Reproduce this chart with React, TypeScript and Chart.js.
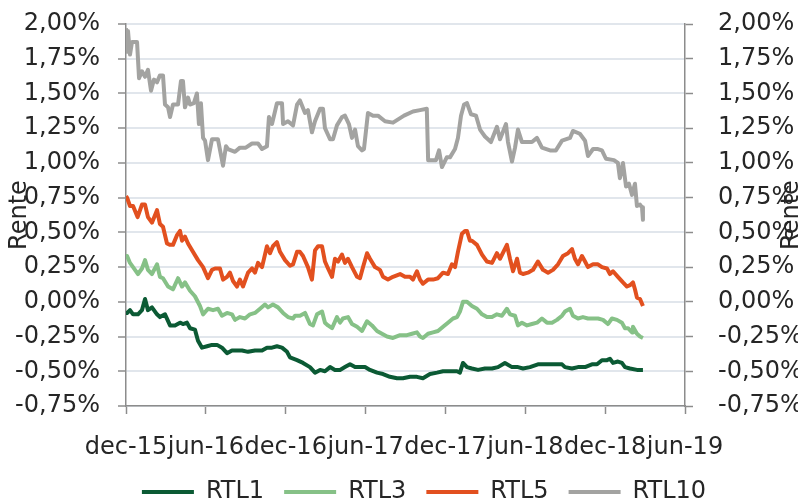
import React, { useEffect, useRef } from 'react';
import { Chart, registerables } from 'chart.js';

Chart.register(...registerables);

// x values are months since 1 Dec 2015
const tickLabels = ['dec-15', 'jun-16', 'dec-16', 'jun-17', 'dec-17', 'jun-18', 'dec-18', 'jun-19'];
const seriesNames = ['RTL1', 'RTL3', 'RTL5', 'RTL10'];
const seriesColors = ['#0b5a34', '#86c187', '#e2501f', '#a3a3a1'];
const axisTitle = 'Rente';

const rtl1: [number, number][] = [
  [0, -0.08], [0.08, -0.08], [0.3, -0.06], [0.53, -0.09], [0.9, -0.09], [1.2, -0.06], [1.43, 0.02], [1.65, -0.06],
  [1.95, -0.04], [2.33, -0.09], [2.55, -0.11], [2.93, -0.09], [3.31, -0.17], [3.68, -0.17], [4.06, -0.15], [4.28, -0.16],
  [4.58, -0.15], [4.81, -0.19], [5.18, -0.2], [5.41, -0.28], [5.71, -0.33], [6.09, -0.32], [6.46, -0.31], [6.84, -0.31],
  [7.21, -0.33], [7.59, -0.37], [7.96, -0.35], [8.34, -0.35], [8.72, -0.35], [9.17, -0.36], [9.69, -0.35], [10.22, -0.35],
  [10.59, -0.33], [10.97, -0.33], [11.34, -0.32], [11.72, -0.33], [12.1, -0.36], [12.32, -0.4], [12.85, -0.42], [13.3, -0.44],
  [13.82, -0.47], [14.2, -0.51], [14.58, -0.49], [14.95, -0.5], [15.33, -0.47], [15.7, -0.49], [16.08, -0.49], [16.45, -0.47],
  [16.83, -0.45], [17.21, -0.47], [17.58, -0.47], [17.96, -0.47], [18.33, -0.49], [18.86, -0.51], [19.31, -0.52], [19.83, -0.54],
  [20.36, -0.55], [20.81, -0.55], [21.34, -0.54], [21.86, -0.54], [22.31, -0.55], [22.84, -0.52], [23.37, -0.51], [23.82, -0.5],
  [24.34, -0.5], [24.87, -0.5], [25.09, -0.51], [25.32, -0.44], [25.62, -0.47], [25.99, -0.48], [26.45, -0.49], [26.97, -0.48],
  [27.5, -0.48], [27.95, -0.47], [28.47, -0.44], [29.0, -0.47], [29.45, -0.47], [29.83, -0.48], [30.35, -0.47], [30.95, -0.45],
  [31.63, -0.45], [32.08, -0.45], [32.76, -0.45], [32.98, -0.47], [33.51, -0.48], [33.96, -0.47], [34.49, -0.47], [35.01, -0.45],
  [35.39, -0.45], [35.76, -0.42], [36.14, -0.42], [36.36, -0.41], [36.59, -0.44], [36.96, -0.43], [37.26, -0.44], [37.49, -0.47],
  [37.87, -0.48], [38.39, -0.49], [38.84, -0.49],
];

const rtl3: [number, number][] = [
  [0, 0.33], [0.08, 0.33], [0.3, 0.28], [0.53, 0.25], [0.9, 0.2], [1.2, 0.24], [1.43, 0.3], [1.65, 0.23], [1.95, 0.2],
  [2.33, 0.27], [2.55, 0.18], [2.78, 0.17], [3.16, 0.11], [3.53, 0.09], [3.91, 0.17], [4.21, 0.11], [4.43, 0.14], [4.81, 0.08],
  [5.18, 0.04], [5.56, -0.03], [5.79, -0.09], [6.16, -0.05], [6.54, -0.06], [6.91, -0.05], [7.21, -0.1], [7.59, -0.08],
  [7.96, -0.09], [8.19, -0.13], [8.56, -0.11], [8.94, -0.12], [9.32, -0.09], [9.69, -0.08], [10.07, -0.05], [10.44, -0.02],
  [10.67, -0.04], [11.04, -0.02], [11.42, -0.04], [11.8, -0.08], [12.17, -0.11], [12.55, -0.12], [12.7, -0.1], [13.07, -0.1],
  [13.45, -0.08], [13.82, -0.16], [14.05, -0.17], [14.35, -0.09], [14.73, -0.07], [14.95, -0.15], [15.18, -0.17], [15.48, -0.19],
  [15.85, -0.11], [16.08, -0.15], [16.3, -0.12], [16.68, -0.11], [16.98, -0.16], [17.36, -0.18], [17.73, -0.21], [18.11, -0.14],
  [18.48, -0.17], [18.86, -0.21], [19.23, -0.23], [19.61, -0.25], [20.06, -0.26], [20.59, -0.24], [21.11, -0.24], [21.49, -0.23],
  [21.86, -0.22], [22.09, -0.25], [22.31, -0.26], [22.69, -0.23], [23.07, -0.22], [23.44, -0.21], [23.82, -0.18], [24.19, -0.15],
  [24.57, -0.12], [24.87, -0.11], [25.09, -0.07], [25.32, 0.0], [25.62, 0.0], [25.99, -0.03], [26.37, -0.05], [26.75, -0.09],
  [27.12, -0.11], [27.5, -0.11], [27.87, -0.09], [28.25, -0.1], [28.62, -0.05], [28.85, -0.09], [29.23, -0.1], [29.45, -0.17],
  [29.75, -0.15], [30.13, -0.17], [30.5, -0.16], [30.88, -0.15], [31.25, -0.12], [31.63, -0.15], [32.01, -0.15], [32.38, -0.13],
  [32.76, -0.1], [32.98, -0.07], [33.36, -0.05], [33.58, -0.1], [33.96, -0.12], [34.33, -0.11], [34.71, -0.12], [35.09, -0.12],
  [35.46, -0.12], [35.84, -0.13], [36.21, -0.16], [36.51, -0.12], [36.89, -0.13], [37.26, -0.15], [37.49, -0.19], [37.72, -0.19],
  [38.02, -0.22], [38.09, -0.18], [38.39, -0.23], [38.62, -0.25], [38.84, -0.26],
];

const rtl5: [number, number][] = [
  [0, 0.76], [0.08, 0.75], [0.3, 0.69], [0.53, 0.69], [0.87, 0.61], [1.2, 0.7], [1.43, 0.7], [1.65, 0.61], [1.95, 0.57],
  [2.33, 0.66], [2.55, 0.56], [2.78, 0.54], [3.08, 0.42], [3.31, 0.41], [3.53, 0.41], [3.83, 0.48], [4.06, 0.51], [4.21, 0.44],
  [4.43, 0.47], [4.66, 0.42], [5.03, 0.36], [5.41, 0.3], [5.79, 0.25], [6.16, 0.17], [6.46, 0.23], [6.69, 0.24], [7.06, 0.24],
  [7.29, 0.16], [7.59, 0.18], [7.81, 0.21], [8.04, 0.15], [8.34, 0.11], [8.56, 0.16], [8.79, 0.11], [9.17, 0.21], [9.47, 0.24],
  [9.69, 0.21], [9.92, 0.28], [10.22, 0.25], [10.59, 0.4], [10.82, 0.35], [11.04, 0.4], [11.34, 0.43], [11.57, 0.36],
  [11.95, 0.3], [12.32, 0.26], [12.55, 0.27], [12.85, 0.36], [13.07, 0.36], [13.3, 0.33], [13.67, 0.25], [13.97, 0.16],
  [14.2, 0.37], [14.43, 0.4], [14.73, 0.4], [14.95, 0.29], [15.18, 0.24], [15.48, 0.18], [15.7, 0.31], [15.93, 0.29],
  [16.23, 0.34], [16.45, 0.28], [16.68, 0.31], [16.98, 0.25], [17.36, 0.18], [17.58, 0.17], [17.81, 0.25], [18.11, 0.35],
  [18.33, 0.31], [18.71, 0.25], [19.08, 0.23], [19.31, 0.18], [19.68, 0.16], [20.06, 0.18], [20.59, 0.2], [20.96, 0.18],
  [21.34, 0.18], [21.56, 0.16], [21.86, 0.22], [22.09, 0.16], [22.31, 0.13], [22.69, 0.16], [23.07, 0.16], [23.44, 0.17],
  [23.82, 0.21], [24.19, 0.2], [24.49, 0.27], [24.72, 0.25], [24.94, 0.36], [25.24, 0.49], [25.47, 0.51], [25.62, 0.51],
  [25.84, 0.44], [25.99, 0.44], [26.37, 0.41], [26.75, 0.34], [27.12, 0.29], [27.5, 0.28], [27.87, 0.35], [28.1, 0.31],
  [28.62, 0.41], [28.85, 0.31], [29.08, 0.22], [29.38, 0.31], [29.6, 0.21], [29.83, 0.2], [30.2, 0.21], [30.58, 0.23],
  [30.95, 0.29], [31.33, 0.23], [31.71, 0.21], [32.08, 0.23], [32.46, 0.27], [32.83, 0.33], [33.21, 0.35], [33.51, 0.38],
  [33.73, 0.31], [33.96, 0.27], [34.26, 0.33], [34.49, 0.29], [34.71, 0.25], [35.09, 0.27], [35.46, 0.27], [35.76, 0.25],
  [36.14, 0.24], [36.36, 0.2], [36.59, 0.22], [36.96, 0.18], [37.34, 0.14], [37.64, 0.11], [37.87, 0.12], [38.09, 0.14],
  [38.24, 0.09], [38.39, 0.03], [38.62, 0.02], [38.84, -0.03],
];

const rtl10: [number, number][] = [
  [0, 1.97], [0.08, 1.8], [0.15, 1.95], [0.3, 1.78], [0.45, 1.87], [0.83, 1.87], [0.98, 1.61], [1.2, 1.66], [1.43, 1.62],
  [1.65, 1.67], [1.88, 1.52], [2.1, 1.6], [2.33, 1.58], [2.55, 1.63], [2.78, 1.63], [2.93, 1.42], [3.16, 1.4], [3.31, 1.33],
  [3.53, 1.42], [3.91, 1.42], [4.13, 1.59], [4.28, 1.59], [4.43, 1.4], [4.66, 1.47], [4.81, 1.42], [5.1, 1.43], [5.33, 1.5],
  [5.48, 1.28], [5.63, 1.43], [5.79, 1.18], [5.94, 1.16], [6.16, 1.02], [6.46, 1.17], [6.91, 1.17], [7.29, 0.98], [7.51, 1.12],
  [7.66, 1.1], [8.19, 1.08], [8.56, 1.11], [9.0, 1.11], [9.47, 1.14], [9.92, 1.14], [10.22, 1.1], [10.59, 1.12], [10.74, 1.33],
  [10.97, 1.28], [11.34, 1.43], [11.72, 1.43], [11.8, 1.28], [12.17, 1.3], [12.55, 1.27], [12.85, 1.42], [13.07, 1.45],
  [13.45, 1.36], [13.67, 1.38], [13.97, 1.22], [14.2, 1.3], [14.58, 1.39], [14.8, 1.39], [14.95, 1.25], [15.33, 1.17],
  [15.55, 1.17], [15.85, 1.27], [16.23, 1.33], [16.45, 1.34], [16.75, 1.28], [16.98, 1.18], [17.21, 1.24], [17.43, 1.12],
  [17.73, 1.09], [17.88, 1.1], [18.18, 1.36], [18.56, 1.34], [18.93, 1.34], [19.46, 1.3], [20.06, 1.29], [20.89, 1.34],
  [21.56, 1.37], [22.09, 1.38], [22.6, 1.39], [22.7, 1.02], [23.29, 1.02], [23.52, 1.09], [23.74, 0.97], [24.1, 1.04],
  [24.34, 1.04], [24.72, 1.1], [24.94, 1.18], [25.17, 1.34], [25.4, 1.42], [25.62, 1.43], [25.92, 1.35], [26.3, 1.34],
  [26.6, 1.24], [26.97, 1.19], [27.42, 1.15], [27.87, 1.26], [28.1, 1.17], [28.55, 1.28], [28.7, 1.15], [29.0, 1.01],
  [29.23, 1.11], [29.45, 1.24], [29.75, 1.15], [30.5, 1.15], [30.88, 1.18], [31.25, 1.11], [31.86, 1.09], [32.3, 1.09],
  [32.76, 1.16], [33.36, 1.18], [33.58, 1.23], [34.1, 1.21], [34.49, 1.16], [34.71, 1.05], [35.09, 1.1], [35.46, 1.1],
  [35.76, 1.09], [36.06, 1.03], [36.66, 1.02], [36.96, 1.0], [37.11, 0.89], [37.34, 1.0], [37.57, 0.83], [37.79, 0.85],
  [38.02, 0.77], [38.24, 0.85], [38.39, 0.69], [38.62, 0.7], [38.77, 0.68], [38.84, 0.59],
];

const seriesData = [rtl1, rtl3, rtl5, rtl10];

const FONT = 'DejaVu Sans';
const TEXT = '#262626';
const AXIS = '#8c8c8c';
const GRID = '#e1e6ec';

const fmtPct = (v: number | string) => Number(v).toFixed(2).replace('.', ',') + '%';

const sideTitles = {
  id: 'sideTitles',
  afterLayout(chart: any) {
    const lg = chart.legend;
    if (lg) {
      lg.left += 21;
      lg.right += 21;
    }
  },
  afterDraw(chart: any) {
    const { ctx, chartArea } = chart;
    const cy = (chartArea.top + chartArea.bottom) / 2;
    ctx.save();
    ctx.font = `24px "${FONT}"`;
    ctx.fillStyle = TEXT;
    ctx.textAlign = 'center';
    ctx.textBaseline = 'middle';
    for (const x of [12, chart.width - 6]) {
      ctx.save();
      ctx.translate(x, cy);
      ctx.rotate(-Math.PI / 2);
      ctx.fillText(axisTitle, 0, 0);
      ctx.restore();
    }
    ctx.restore();
  },
};

export default function App() {
  const ref = useRef<HTMLCanvasElement>(null);
  useEffect(() => {
    document.body.style.overflow = 'hidden';
    const font = { family: FONT, size: 24 };
    const yTicks = { stepSize: 0.25, font, color: TEXT, callback: (v: any) => fmtPct(v) };
    const chart = new Chart(ref.current!, {
      type: 'line',
      data: {
        datasets: seriesNames.map((name, i) => ({
          label: name,
          data: seriesData[i].map(([x, y]) => ({ x, y })),
          borderColor: seriesColors[i],
          backgroundColor: seriesColors[i],
          borderWidth: 4,
          pointRadius: 0,
          tension: 0,
          borderJoinStyle: 'round' as const,
          yAxisID: 'y',
        })),
      },
      options: {
        animation: false,
        responsive: true,
        maintainAspectRatio: false,
        layout: { padding: { top: 16, left: 0, right: 0, bottom: 0 } },
        plugins: {
          tooltip: { enabled: false },
          legend: {
            position: 'bottom',
            labels: {
              font,
              color: TEXT,
              boxWidth: 52,
              boxHeight: 4,
              padding: 20,
              generateLabels: (c: any) =>
                c.data.datasets.map((ds: any, i: number) => ({
                  text: ds.label,
                  fillStyle: ds.borderColor,
                  strokeStyle: ds.borderColor,
                  lineWidth: 0,
                  hidden: false,
                  datasetIndex: i,
                  fontColor: TEXT,
                })),
            },
          },
        },
        scales: {
          x: {
            type: 'linear',
            min: 0,
            max: 42,
            afterBuildTicks: (s: any) => {
              s.ticks = tickLabels.map((_, i) => ({ value: i * 6 }));
            },
            ticks: {
              autoSkip: false,
              maxRotation: 0,
              minRotation: 0,
              padding: 19,
              font,
              color: TEXT,
              callback: (v: any) => tickLabels[Math.round(Number(v) / 6)] ?? '',
            },
            grid: { drawOnChartArea: false, tickLength: 8, tickColor: AXIS, tickWidth: 1.5 },
            border: { color: AXIS, width: 1.5 },
            afterFit: (s: any) => {
              s.height = 54;
            },
          },
          y: {
            position: 'left',
            min: -0.75,
            max: 2,
            ticks: { ...yTicks, padding: 18 },
            grid: { color: GRID, lineWidth: 2, tickColor: AXIS, tickLength: 8, tickWidth: 1.5 },
            border: { color: AXIS, width: 1.5 },
            afterFit: (s: any) => {
              s.width = 118;
              s.paddingTop = 0;
              s.paddingBottom = 0;
            },
          },
          y2: {
            position: 'right',
            min: -0.75,
            max: 2,
            ticks: { ...yTicks, padding: 25 },
            grid: { drawOnChartArea: false, tickColor: AXIS, tickLength: 8, tickWidth: 1.5 },
            border: { color: AXIS, width: 1.5 },
            afterFit: (s: any) => {
              s.width = 113;
              s.paddingTop = 0;
              s.paddingBottom = 0;
            },
          },
        },
      },
      plugins: [sideTitles],
    } as any);
    return () => chart.destroy();
  }, []);
  return (
    <div style={{ width: 790, height: 494, overflow: 'hidden' }}>
      <div style={{ width: 790, height: 506, position: 'relative' }}>
        <canvas ref={ref} />
      </div>
    </div>
  );
}
